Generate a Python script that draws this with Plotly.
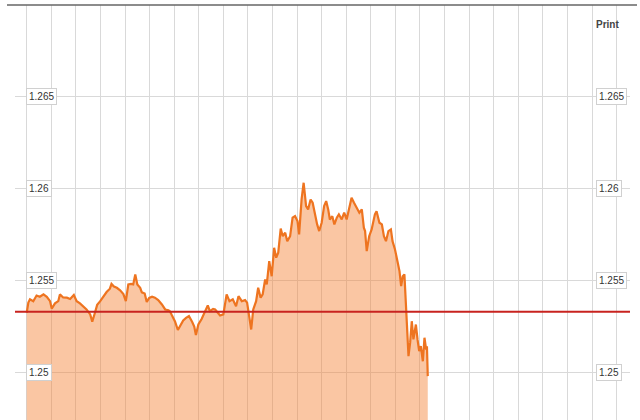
import pandas as pd
import plotly.graph_objects as go

# ---- data -------------------------------------------------------------
BASE_DATE = "2013-03-01"
# minutes after midnight
minutes = [0, 4, 8, 16, 24, 32, 41, 49, 57, 61, 69, 77, 81, 89, 98, 106, 115, 122, 130, 138,
           146, 155, 160, 166, 172, 179, 187, 195, 203, 207, 213, 220, 228, 236, 242, 248, 255, 260, 265, 270,
           277, 281, 288, 293, 299, 306, 313, 321, 330, 338, 346, 350, 355, 362, 369, 376, 382, 389, 396, 404,
           409, 413, 419, 427, 435, 442, 447, 455, 460, 467, 472, 480, 488, 495, 503, 511, 517, 525, 533, 538,
           543, 548, 553, 560, 565, 571, 576, 582, 586, 592, 598, 604, 609, 614, 620, 625, 631, 636, 643, 649,
           655, 661, 665, 671, 676, 682, 687, 693, 698, 704, 709, 714, 720, 726, 731, 736, 740, 746, 751, 757,
           762, 769, 775, 781, 787, 793, 799, 806, 812, 818, 823, 826, 830, 836, 842, 850, 854, 861, 867, 872,
           877, 883, 889, 893, 899, 905, 910, 914, 918, 922, 925, 928, 932, 936, 940, 944, 950, 954, 958, 962,
           967, 971, 975, 977, 979]
rate = [1.25324, 1.25380, 1.25397, 1.25387, 1.25418, 1.25411, 1.25424, 1.25411, 1.25387, 1.25347,
        1.25375, 1.25387, 1.25424, 1.25407, 1.25406, 1.25399, 1.25421, 1.25387, 1.25375, 1.25360,
        1.25342, 1.25315, 1.25276, 1.25320, 1.25367, 1.25386, 1.25413, 1.25437, 1.25455, 1.25481,
        1.25467, 1.25460, 1.25446, 1.25426, 1.25387, 1.25478, 1.25481, 1.25478, 1.25533, 1.25478,
        1.25460, 1.25435, 1.25429, 1.25383, 1.25405, 1.25411, 1.25406, 1.25393, 1.25369, 1.25342,
        1.25338, 1.25331, 1.25307, 1.25277, 1.25230, 1.25260, 1.25282, 1.25296, 1.25306, 1.25274,
        1.25249, 1.25203, 1.25260, 1.25290, 1.25331, 1.25364, 1.25333, 1.25345, 1.25342, 1.25323,
        1.25309, 1.25315, 1.25424, 1.25387, 1.25397, 1.25360, 1.25414, 1.25387, 1.25393, 1.25379,
        1.25306, 1.25233, 1.25342, 1.25387, 1.25460, 1.25406, 1.25424, 1.25505, 1.25478, 1.25605,
        1.25523, 1.25678, 1.25624, 1.25651, 1.25782, 1.25741, 1.25760, 1.25714, 1.25741, 1.25842,
        1.25850, 1.25823, 1.25751, 1.25941, 1.26032, 1.25905, 1.25887, 1.25941, 1.25923, 1.25850,
        1.25805, 1.25769, 1.25814, 1.25905, 1.25932, 1.25887, 1.25832, 1.25850, 1.25805, 1.25842,
        1.25860, 1.25832, 1.25869, 1.25832, 1.25887, 1.25950, 1.25923, 1.25896, 1.25869, 1.25887,
        1.25787, 1.25769, 1.25660, 1.25741, 1.25778, 1.25860, 1.25877, 1.25814, 1.25805, 1.25741,
        1.25714, 1.25769, 1.25778, 1.25714, 1.25669, 1.25605, 1.25551, 1.25469, 1.25523, 1.25533,
        1.25379, 1.25270, 1.25088, 1.25161, 1.25278, 1.25179, 1.25260, 1.25179, 1.25115, 1.25142,
        1.25060, 1.25188, 1.25124, 1.25142, 1.24979]
PREV_CLOSE = 1.2533
y_ticks = [1.25, 1.255, 1.26, 1.265]
y_tick_labels = ["1.25", "1.255", "1.26", "1.265"]

# ---- figure -------------------------------------------------------------
base = pd.Timestamp(BASE_DATE)
times = base + pd.to_timedelta(minutes, unit="min")

fig = go.Figure()
fig.add_trace(go.Scatter(
    x=times, y=rate, mode="lines",
    line=dict(color="#ee7420", width=2.2),
    fill="tozeroy", fillcolor="rgba(245,128,50,0.45)",
    hoverinfo="skip", showlegend=False,
))

x_start = base - pd.Timedelta(minutes=28.6)
x_end = base + pd.Timedelta(minutes=1472.7)

fig.update_layout(
    width=640, height=420,
    margin=dict(l=15, r=10, t=5, b=0),
    paper_bgcolor="white", plot_bgcolor="white",
    xaxis=dict(range=[x_start, x_end], type="date", tick0=base, dtick=3600000,
               showgrid=True, gridcolor="#d9d9d9", gridwidth=1,
               showticklabels=False, ticks="", zeroline=False, showline=False),
    yaxis=dict(range=[1.2474, 1.2700], tickvals=y_ticks,
               showgrid=True, gridcolor="#d9d9d9", gridwidth=1,
               showticklabels=False, ticks="", zeroline=False, showline=False),
    font=dict(family="Arial, Liberation Sans, sans-serif", color="#333"),
)

# previous close reference line
fig.add_shape(type="line", xref="paper", yref="y", x0=0, x1=1,
              y0=PREV_CLOSE, y1=PREV_CLOSE, line=dict(color="#c8231f", width=2))
# top border
fig.add_shape(type="line", xref="paper", yref="paper", x0=-0.013, x1=1.0114,
              y0=1, y1=1, line=dict(color="#666", width=1.5))

# boxed tick labels, both sides
for v, t in zip(y_ticks, y_tick_labels):
    for xp in (0.0179, 0.9447):
        fig.add_annotation(x=xp, xref="paper", y=v, yref="y", text=t,
                           showarrow=False, xanchor="left", yanchor="middle",
                           font=dict(size=10, color="#333"),
                           bgcolor="white", bordercolor="#d0d0d0", borderwidth=1, borderpad=2)

fig.add_annotation(x=0.9415, xref="paper", y=0.954, yref="paper", text="<b>Print</b>",
                   showarrow=False, xanchor="left", yanchor="middle",
                   font=dict(size=10, color="#444"))

fig.write_html("out.html", config={"displayModeBar": False},
               post_script="document.body.style.margin='0';document.body.style.overflow='hidden';")
